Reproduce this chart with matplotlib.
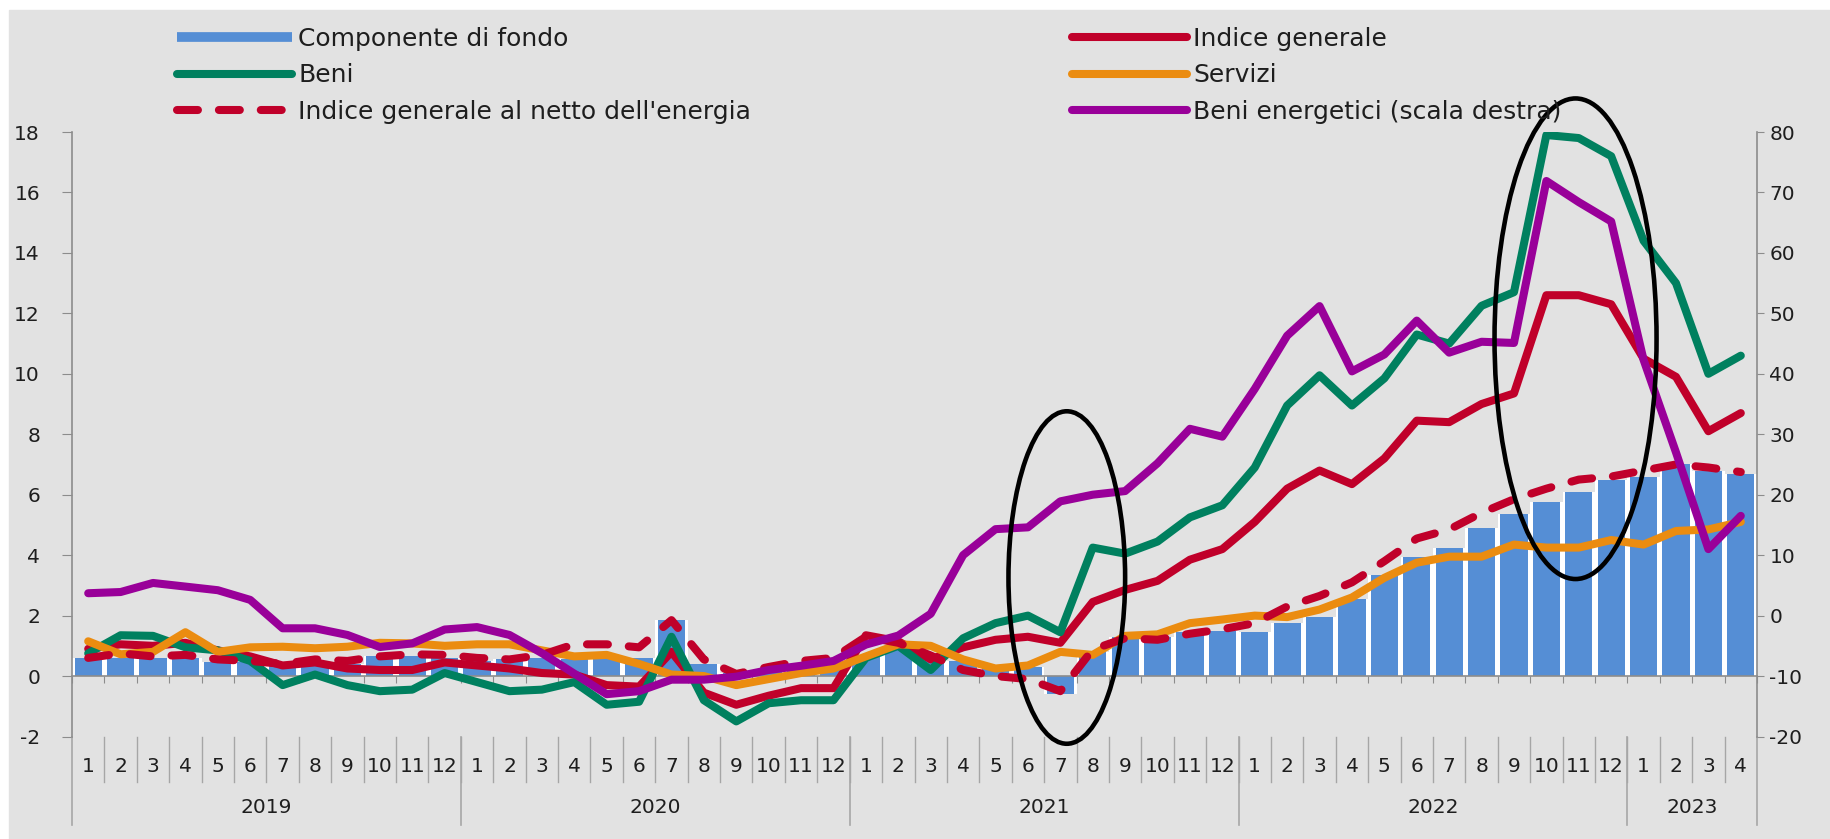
import numpy as np
import matplotlib
matplotlib.use('Agg')
import matplotlib.pyplot as plt
import matplotlib.transforms as mtransforms
from matplotlib.lines import Line2D
from matplotlib.patches import Ellipse, Rectangle

plt.rcParams['font.family'] = ['DejaVu Sans']
plt.rcParams['axes.unicode_minus'] = False

# %% data (monthly, Jan 2019 - Apr 2023)

years = ['2019', '2020', '2021', '2022', '2023']
months_per_year = [12, 12, 12, 12, 4]
month_labels = [str(m) for n in months_per_year for m in range(1, n + 1)]

fondo = [0.6, 0.6, 0.6, 0.6, 0.45, 0.45, 0.35, 0.4, 0.4, 0.65, 0.65, 0.6,
         0.5, 0.55, 0.6, 0.55, 0.6, 0.6, 1.85, 0.4, 0.1, 0.2, 0.2, 0.25,
         0.7, 0.9, 0.6, 0.5, 0.3, 0.3, -0.6, 0.8, 1.3, 1.3, 1.45, 1.5,
         1.45, 1.75, 1.95, 2.55, 3.35, 3.95, 4.25, 4.9, 5.35, 5.75, 6.1, 6.5,
         6.6, 7.0, 6.8, 6.7]

generale = [0.9, 1.05, 1.0, 1.1, 0.85, 0.65, 0.35, 0.45, 0.25, 0.2, 0.2, 0.45,
            0.35, 0.25, 0.1, 0.05, -0.3, -0.35, 0.8, -0.55, -0.95, -0.65, -0.4, -0.4,
            1.35, 1.15, 0.55, 0.95, 1.2, 1.3, 1.1, 2.45, 2.85, 3.15, 3.85, 4.2,
            5.1, 6.2, 6.8, 6.35, 7.2, 8.45, 8.4, 9.0, 9.35, 12.6, 12.6, 12.3,
            10.5, 9.9, 8.1, 8.7]

beni = [0.75, 1.35, 1.33, 0.95, 0.85, 0.5, -0.3, 0.05, -0.3, -0.5, -0.45, 0.1,
        -0.2, -0.5, -0.45, -0.2, -0.95, -0.85, 1.3, -0.8, -1.5, -0.9, -0.8, -0.8,
        0.6, 1.0, 0.2, 1.25, 1.75, 2.0, 1.45, 4.25, 4.05, 4.45, 5.25, 5.65,
        6.9, 8.95, 9.95, 8.95, 9.85, 11.3, 11.0, 12.25, 12.7, 17.9, 17.8, 17.2,
        14.4, 13.0, 10.0, 10.6]

servizi = [1.15, 0.72, 0.8, 1.45, 0.8, 0.95, 0.97, 0.92, 0.97, 1.1, 1.08, 1.0,
           1.05, 1.05, 0.85, 0.65, 0.7, 0.4, 0.05, 0.0, -0.3, -0.1, 0.1, 0.25,
           0.65, 1.05, 1.0, 0.55, 0.25, 0.35, 0.8, 0.7, 1.33, 1.38, 1.75, 1.87,
           2.0, 1.95, 2.2, 2.6, 3.25, 3.75, 3.95, 3.95, 4.35, 4.25, 4.25, 4.5,
           4.35, 4.8, 4.85, 5.1]

netto_energia = [0.6, 0.75, 0.65, 0.7, 0.55, 0.5, 0.4, 0.55, 0.5, 0.65, 0.72, 0.7,
                 0.6, 0.55, 0.7, 1.05, 1.05, 0.95, 1.85, 0.55, 0.07, 0.3, 0.5, 0.6,
                 1.3, 1.1, 0.68, 0.2, 0.0, -0.1, -0.5, 0.88, 1.25, 1.2, 1.4, 1.55,
                 1.75, 2.3, 2.65, 3.1, 3.8, 4.55, 4.85, 5.4, 5.85, 6.2, 6.5, 6.6,
                 6.8, 7.0, 6.9, 6.75]

# right scale
energetici = [3.7, 3.9, 5.4, 4.8, 4.2, 2.6, -2.1, -2.1, -3.2, -5.2, -4.6, -2.3,
              -1.9, -3.2, -6.2, -9.6, -13.0, -12.5, -10.6, -10.6, -10.1, -9.0, -8.3, -7.5,
              -4.8, -3.3, 0.3, 10.0, 14.3, 14.6, 18.9, 20.0, 20.6, 25.2, 30.9, 29.6,
              37.5, 46.3, 51.2, 40.4, 43.2, 48.8, 43.5, 45.3, 45.1, 71.9, 68.4, 65.2,
              42.3, 27.0, 11.0, 16.5]

# highlighted periods: (centre x, centre y, width, height) in left-axis units
highlights = [(30.2, 3.26, 3.6, 11.0), (45.9, 11.16, 5.0, 15.9)]

# %% styles

BLUE = '#558ed5'
RED = '#c0002a'
GREEN = '#00805f'
ORANGE = '#eb8c10'
PURPLE = '#990099'
BG = '#e2e2e2'
AXIS = '#8c8c8c'
SEP = '#a6a6a6'
TXT = '#1e1e1e'
LW = 5.8

W, H = 1831, 839
fig = plt.figure(figsize=(W / 100, H / 100), dpi=100)
fig.patches.append(Rectangle((9 / W, 0), 1, (H - 10) / H, transform=fig.transFigure,
                             color=BG, zorder=-10))

ax = fig.add_axes([72 / W, (H - 736.5) / H, (1757 - 72) / W, (736.5 - 132) / H])
ax.set_facecolor('none')
ax2 = ax.twinx()
ax2.set_facecolor('none')

x = np.arange(len(month_labels))

# bars with white separation (white bar behind slightly wider)
ax.bar(x, fondo, width=1.0, color='white', zorder=1)
ax.bar(x, fondo, width=0.84, color=BLUE, zorder=2)

line_kw = dict(lw=LW, solid_capstyle='round', solid_joinstyle='round')
l_gen, = ax.plot(x, generale, color=RED, zorder=3, **line_kw)
l_beni, = ax.plot(x, beni, color=GREEN, zorder=4, **line_kw)
l_serv, = ax.plot(x, servizi, color=ORANGE, zorder=5, **line_kw)
l_netto, = ax.plot(x, netto_energia, color=RED, lw=LW, dashes=(2.6, 2.6),
                   dash_capstyle='round', solid_joinstyle='round', zorder=6)
l_en, = ax2.plot(x, energetici, color=PURPLE, zorder=3, **line_kw)

for cx, cy, w, h in highlights:
    ax2.add_patch(Ellipse((cx, cy), w, h, transform=ax.transData, fill=False,
                          edgecolor='black', lw=3.3, zorder=10, clip_on=False))

# axes
ax.set_xlim(-0.5, len(x) - 0.5)
ax.set_ylim(-2, 18)
ax.set_yticks(np.arange(-2, 19, 2))
ax2.set_ylim(-20, 80)
ax2.set_yticks(np.arange(-20, 81, 10))

ax.spines['top'].set_visible(False)
ax.spines['right'].set_visible(False)
ax.spines['bottom'].set_position(('data', 0))
for s in ['top', 'bottom', 'left']:
    ax2.spines[s].set_visible(False)
for a in (ax, ax2):
    for s in a.spines.values():
        s.set_color(AXIS)
        s.set_linewidth(1.2)

ax.set_xticks(np.arange(-0.5, len(x), 1))
ax.tick_params(axis='x', direction='out', length=5, color=AXIS, labelbottom=False)
ax.tick_params(axis='y', direction='out', length=7, pad=16, color=AXIS,
               labelsize=14.5, labelcolor=TXT)
ax2.tick_params(axis='y', direction='out', length=5, pad=4, color=AXIS,
                labelsize=14.5, labelcolor=TXT)

# category axis below the plot: months and years
trans = mtransforms.blended_transform_factory(ax.transData, ax.transAxes)
for i, lab in enumerate(month_labels):
    ax.text(i, -0.05, lab, transform=trans, ha='center', va='center',
            fontsize=14.5, color=TXT)

bounds = np.cumsum([0] + months_per_year) - 0.5
for b in np.arange(0.5, len(x) - 1, 1):
    ax.plot([b, b], [0, -0.075], transform=trans, clip_on=False, color=SEP, lw=1)
for b in bounds:
    ax.plot([b, b], [0, -0.146], transform=trans, clip_on=False, color=SEP, lw=1.2)
for k, yr in enumerate(years):
    ax.text((bounds[k] + bounds[k + 1]) / 2, -0.118, yr, transform=trans,
            ha='center', va='center', fontsize=14.5, color=TXT)

# legend, two columns
h_fondo = Line2D([], [], color=BLUE, lw=7, solid_capstyle='butt')
leg_kw = dict(loc='upper left', frameon=False, fontsize=18, handlelength=4.6,
              handletextpad=0.25, labelspacing=0.5, borderpad=0, borderaxespad=0,
              labelcolor=TXT)
leg1 = fig.legend([h_fondo, l_beni, l_netto],
                  ['Componente di fondo', 'Beni', "Indice generale al netto dell'energia"],
                  bbox_to_anchor=(177 / W, 1 - 27 / H), **leg_kw)
leg2 = fig.legend([l_gen, l_serv, l_en],
                  ['Indice generale', 'Servizi', 'Beni energetici (scala destra)'],
                  bbox_to_anchor=(1072 / W, 1 - 27 / H), **leg_kw)

fig.savefig('out.png', dpi=100, facecolor='white')
